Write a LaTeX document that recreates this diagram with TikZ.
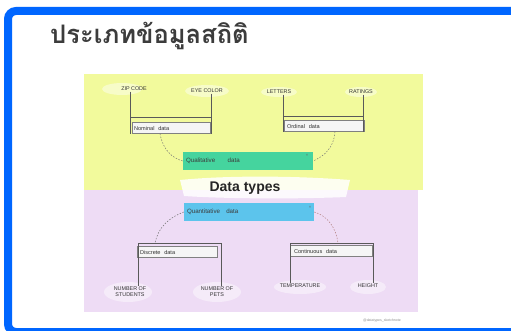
\documentclass[tikz,border=0pt]{standalone}
\usepackage{fontspec}
\newfontfamily\thaifont[Script=Thai]{Loma}
\setsansfont{Liberation Sans}
\definecolor{frameblue}{HTML}{0066FF}
\definecolor{bgyellow}{HTML}{F2FA9C}
\definecolor{bgpurple}{HTML}{EEDCF5}
\definecolor{qualgreen}{HTML}{45D49E}
\definecolor{quanblue}{HTML}{5CC4EC}
\definecolor{inkgray}{HTML}{3C3C3C}
\begin{document}
\begin{tikzpicture}[x=1pt,y=-1pt,
  lbl/.style={font=\sffamily\fontsize{5.4}{6}\selectfont, text=black!80, inner sep=0.5pt, align=center},
  catbox/.style={draw=black!50, fill=white!92!gray, font=\sffamily\fontsize{5.6}{6.5}\selectfont, text=black!80,
     minimum height=11, inner sep=1pt, text width=74, align=left},
  bigbox/.style={font=\sffamily\fontsize{6.2}{7}\selectfont, text=inkgray, minimum width=130, minimum height=18,
     inner sep=1pt, text width=124, align=left},
  bracketline/.style={draw=black!65, line width=0.7},
  dashline/.style={draw=black!55, line width=0.5, dash pattern=on 1.5pt off 1.5pt},
  cloud/.style={fill=white, opacity=0.45},
]
\useasboundingbox (0,0) rectangle (511,331);
\clip (0,0) rectangle (511,331);
\fill[white] (0,0) rectangle (511,331);
% background areas
\fill[bgyellow] (84,74) rectangle (423,190);
\fill[bgpurple] (84,190) rectangle (418,312);
% white clouds
\fill[white, opacity=0.85] (180,180) .. controls (230,175) and (300,176) .. (350,180) -- (346,197) .. controls (300,199) and (230,199) .. (184,196) -- cycle;
\fill[cloud] (122,89) ellipse (20 and 6);
\fill[cloud] (207,91) ellipse (22 and 6);
\fill[cloud] (279,92) ellipse (18 and 5);
\fill[cloud] (361,92) ellipse (16 and 5);
\fill[cloud] (128,292) ellipse (24 and 10);
\fill[cloud] (217,292) ellipse (24 and 10);
\fill[cloud] (300,287) ellipse (26 and 7);
\fill[cloud] (368,287) ellipse (18 and 7);
% title
\node[font=\thaifont\bfseries\fontsize{25.5}{28}\selectfont, text=inkgray, anchor=west, inner sep=0] (title) at (50,36) {ประเภทข้อมูลสถิติ};
% top labels
\node[lbl] (zip) at (134,89) {ZIP CODE};
\node[lbl] (eye) at (207,91) {EYE COLOR};
\node[lbl] (letters) at (279,92) {LETTERS};
\node[lbl] (ratings) at (361,92) {RATINGS};
% nominal / ordinal boxes
\node[catbox, minimum width=78] (nominal) at (171,128) {Nominal\ \ data};
\node[catbox, minimum width=80] (ordinal) at (324,126) {Ordinal\ \ data};
\coordinate (nl) at (130,134);
\coordinate (nr) at (211,134);
\coordinate (ol) at (283,132);
\coordinate (or) at (363,132);
\draw[bracketline] (zip.south -| nl) -- (nl);
\draw[bracketline] (eye.south -| nr) -- (nr);
\draw[bracketline] (130,117) -- (211,117);
\draw[bracketline] (letters.south -| ol) -- (ol);
\draw[bracketline] (ratings.south -| or) -- (or);
\draw[bracketline] (283,116) -- (363,116);
% qualitative
\node[bigbox, fill=qualgreen] (qual) at (248,161) {Qualitative\qquad data};
\node[font=\sffamily\fontsize{4}{4}\selectfont, text=black!60, inner sep=0] (qmark) at (307,155) {×};
\draw[dashline] (nominal.south -| 160,0) .. controls (163,150) and (172,158) .. (qual.west);
\draw[dashline] (ordinal.south -| 335,0) .. controls (334,148) and (324,156) .. (qual.east);
% data types
\node[font=\sffamily\bfseries\fontsize{14}{16}\selectfont, text=black!85, inner sep=0] (types) at (245,188) {Data types};
% quantitative
\node[bigbox, fill=quanblue] (quan) at (249,212) {Quantitative\quad data};
\node[font=\sffamily\fontsize{4}{4}\selectfont, text=black!60, inner sep=0] (nmark) at (310,207) {×};
% discrete / continuous
\node[catbox, minimum width=80] (discrete) at (177,252) {Discrete\ \ data};
\node[catbox, minimum width=82] (continuous) at (331,251) {Continuous\ \ data};
\draw[dashline] (quan.west) .. controls (168,218) and (158,228) .. (155,243);
\draw[dashline, draw=red!40!black!50] (quan.east) .. controls (328,216) and (336,228) .. (338,243);
% bottom labels
\node[lbl] (nstud) at (130,292) {NUMBER OF\\STUDENTS};
\node[lbl] (npets) at (217,292) {NUMBER OF\\PETS};
\node[lbl] (temp) at (300,286) {TEMPERATURE};
\node[lbl] (height) at (368,286) {HEIGHT};
\coordinate (dl) at (138,243);
\coordinate (dr) at (221,243);
\coordinate (cl) at (290,243);
\coordinate (cr) at (373,243);
\draw[bracketline] (dl) -- (dr);
\draw[bracketline] (dl) -- (nstud.north -| dl);
\draw[bracketline] (dr) -- (npets.north -| dr);
\draw[bracketline] (cl) -- (cr);
\draw[bracketline] (cl) -- (temp.north -| cl);
\draw[bracketline] (cr) -- (height.north -| cr);
% credit
\node[font=\sffamily\fontsize{3.5}{4}\selectfont, text=black!45, inner sep=0] (credit) at (382,321) {@datatypes\_sketchnote};
% blue frame
\draw[frameblue, line width=8, rounded corners=8] (8,11) -- (530,11) -- (530,332) -- (8,332) -- cycle;
\end{tikzpicture}
\end{document}
